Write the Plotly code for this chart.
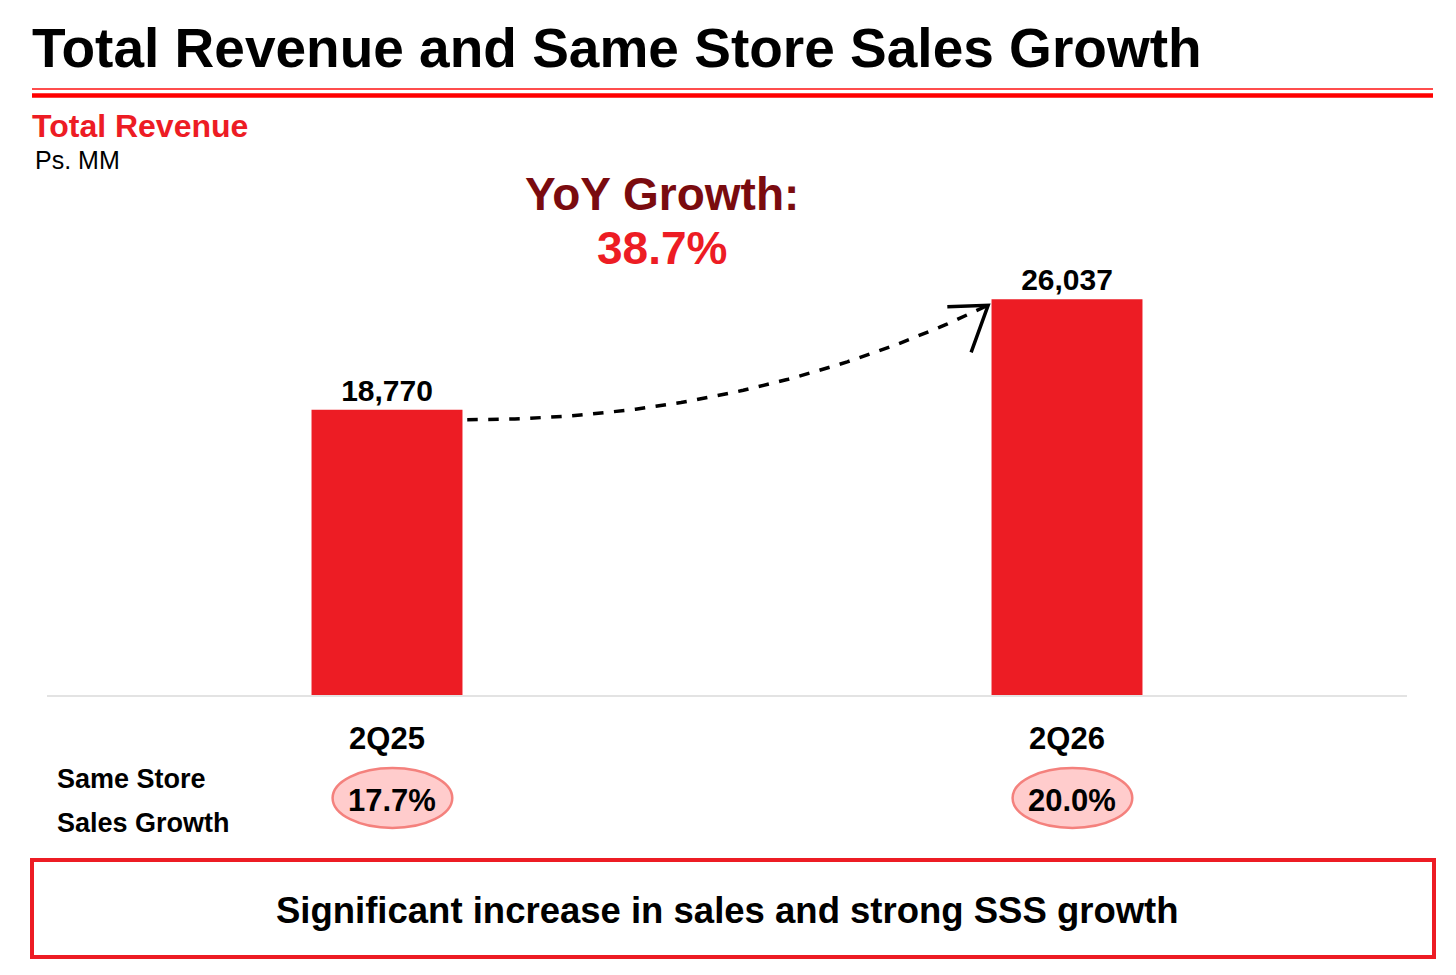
import numpy as np
import plotly.graph_objects as go

# ---- data ----
quarters = ["2Q25", "2Q26"]
revenue = [18770, 26037]          # Ps. MM
sss_growth = ["17.7%", "20.0%"]   # same store sales growth
yoy_growth = "38.7%"

title = "Total Revenue and Same Store Sales Growth"
subtitle = "Total Revenue"
unit = "Ps. MM"
footer = "Significant increase in sales and strong SSS growth"

# ---- layout helpers (screen pixel -> paper) ----
# page body has an 8px margin, so the figure is drawn offset by 8px
W, H = 1456, 975
L, R, T, B = 39, 57, 92, 288
PW, PH = W - L - R, H - T - B
OFF = 8
def px(x):
    return (x - OFF - L) / PW
def py(y):
    return (H - B - (y - OFF)) / PH

RED = "#ED1C24"
FONT = "Liberation Sans, Arial, sans-serif"
BW = 0.222

xpos = list(range(len(quarters)))

fig = go.Figure()
fig.add_trace(go.Bar(
    x=xpos, y=revenue, width=BW,
    marker=dict(color=RED, line=dict(width=0)),
    text=[f"{v:,}" for v in revenue], textposition="outside",
    textfont=dict(family=FONT, size=30, color="black", weight="bold"),
    cliponaxis=False, hoverinfo="skip",
))

# curved dashed arrow from bar 1 to bar 2
x0, y0 = xpos[0] + BW / 2 + 0.007, revenue[0] * 0.965
x2, y2 = xpos[1] - BW / 2 - 0.005, revenue[1] * 0.985
x1c, y1c = (xpos[0] + xpos[1]) / 2 + 0.034, revenue[0] * 0.964
t = np.linspace(0, 1, 60)
bx = (1 - t) ** 2 * x0 + 2 * (1 - t) * t * x1c + t ** 2 * x2
by = (1 - t) ** 2 * y0 + 2 * (1 - t) * t * y1c + t ** 2 * y2
fig.add_trace(go.Scatter(x=bx, y=by, mode="lines",
                         line=dict(color="black", width=3.5, dash="dash"),
                         hoverinfo="skip", cliponaxis=False))
fig.add_trace(go.Scatter(x=[x2 - 0.06, x2, x2 - 0.025],
                         y=[y2 - 100, y2, y2 - 3100], mode="lines",
                         line=dict(color="black", width=3.5),
                         hoverinfo="skip", cliponaxis=False))

shapes = []
annotations = []

# title rules
shapes.append(dict(type="line", xref="paper", yref="paper", x0=px(32), x1=px(1433),
                   y0=py(89), y1=py(89), line=dict(color="#FF4D4D", width=2)))
shapes.append(dict(type="line", xref="paper", yref="paper", x0=px(32), x1=px(1433),
                   y0=py(95.5), y1=py(95.5), line=dict(color="#FF0000", width=4.5)))

def ann(text, x, y, size, color="black", xanchor="left", bold=True, xref="paper"):
    annotations.append(dict(text=text, x=x, y=y, xref=xref, yref="paper",
                            xanchor=xanchor, yanchor="middle", showarrow=False,
                            font=dict(family=FONT, size=size, color=color,
                                      weight="bold" if bold else "normal")))

ann(title, px(30), py(48), 55)
ann(subtitle, px(30), py(126), 32, color=RED)
ann(unit, px(33), py(160), 25, bold=False)
ann("YoY Growth:", px(662), py(194), 46, color="#7A0B0F", xanchor="center")
ann(yoy_growth, px(662), py(248), 46, color=RED, xanchor="center")
ann("Same Store", px(55), py(779), 27)
ann("Sales Growth", px(55), py(823), 27)

# SSS ovals
for i, g in enumerate(sss_growth):
    shapes.append(dict(type="circle", xref="x", yref="paper",
                       x0=xpos[i] - 0.080, x1=xpos[i] + 0.096,
                       y0=py(828), y1=py(768),
                       fillcolor="#FFCCCC", line=dict(color="#F4817D", width=2.5),
                       layer="below"))
    ann(g, xpos[i] + 0.008, py(800), 31, xanchor="center", xref="x")

# footer box
shapes.append(dict(type="rect", xref="paper", yref="paper", x0=px(32), x1=px(1434),
                   y0=py(957), y1=py(860), line=dict(color=RED, width=4),
                   fillcolor="rgba(0,0,0,0)"))
ann(footer, px(727), py(910), 36.5, xanchor="center")

fig.update_layout(
    width=W, height=H, autosize=False,
    margin=dict(l=L, r=R, t=T, b=B, pad=0),
    paper_bgcolor="white", plot_bgcolor="white",
    showlegend=False, shapes=shapes, annotations=annotations,
    xaxis=dict(range=[-0.5, 1.5], tickvals=xpos, ticktext=quarters,
               showgrid=False, zeroline=False, showline=True,
               linecolor="#E3E3E3", linewidth=2, ticks="",
               ticklabelstandoff=15,
               tickfont=dict(family=FONT, size=31, color="black", weight="bold"),
               fixedrange=True),
    yaxis=dict(range=[0, 39150], visible=False, fixedrange=True),
    font=dict(family=FONT),
)

fig.write_html("out.html")
